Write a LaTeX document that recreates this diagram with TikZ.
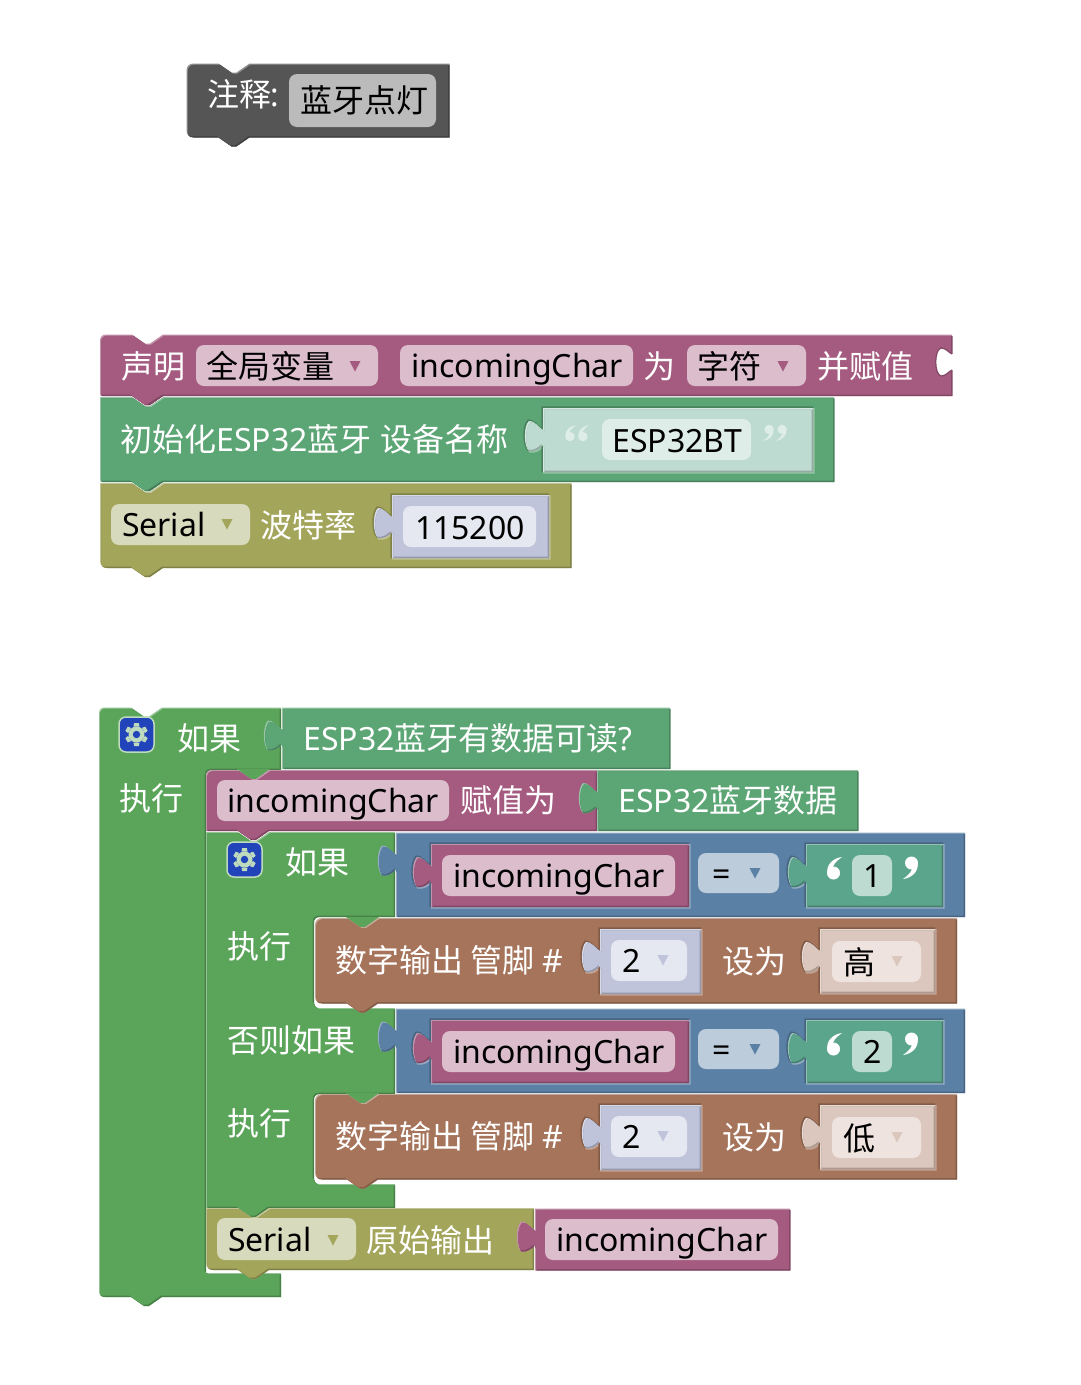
\documentclass[tikz,border=0pt]{standalone}
\usepackage{fontspec}
\setmainfont{Noto Sans}
\newfontfamily\cjk{Noto Sans CJK SC}
\newcommand\zh[1]{{\cjk #1}}
\newcommand\mk[2]{\definecolor{#1}{HTML}{#2}\colorlet{#1L}{#1!65!white}\colorlet{#1D}{#1!78!black}}
\mk{cGray}{555555}
\mk{cFunc}{A55B80}
\mk{cInit}{5CA575}
\mk{cOlive}{A3A55B}
\mk{cCtl}{5BA55B}
\mk{cBlue}{5B80A5}
\mk{cBrown}{A5745B}
\mk{cStr}{5BA58C}
\mk{cNumS}{BFC4DB}
\mk{cStrS}{BDDBD1}
\mk{cBrS}{DBC7BD}
\definecolor{fGray}{HTML}{BBBBBB}
\definecolor{fFunc}{HTML}{DBBDCC}
\definecolor{fOlive}{HTML}{D8DABD}
\definecolor{fBlue}{HTML}{BDCCDB}
\definecolor{fStrS}{HTML}{DEEDE8}
\definecolor{fNum}{HTML}{E5E7F1}
\definecolor{fBr}{HTML}{EEE3DE}
\definecolor{gearB}{HTML}{2244BB}
\definecolor{gearL}{HTML}{BEDBBE}
% block outlines
\newcommand\nt[2]{-- (#1+32,#2) -- (#1+45,#2+9) -- (#1+50,#2+9) -- (#1+63,#2)}
\newcommand\tb[2]{-- (#1+63,#2) -- (#1+50,#2+9) -- (#1+45,#2+9) -- (#1+32,#2)}
\newcommand\emb[1]{%
\begin{scope}\clip\shp;\fill[#1L]\shp;
 \begin{scope}[shift={(1.3,1.3)}]\fill[#1D]\shp;\end{scope}
 \begin{scope}[shift={(-1.3,-1.3)}]\clip\shp;
  \begin{scope}[shift={(2.6,2.6)}]\fill[#1]\shp;\end{scope}
 \end{scope}
\end{scope}}
% statement block: x1 y1 x2 y2 rtop rbot colour
\newcommand\stmt[7]{%
 \def\shp{(#1,#2+#5) .. controls (#1,#2+#5*0.4) and (#1+#5*0.4,#2) .. (#1+#5,#2) \nt{#1}{#2} -- (#3,#2) -- (#3,#4) \tb{#1}{#4} -- (#1+#6,#4) .. controls (#1+#6*0.4,#4) and (#1,#4-#6*0.4) .. (#1,#4-#6) -- cycle}%
 \emb{#7}}
% notch of a statement block: the tab of the block above shows in it
\newcommand\ntfill[3]{\fill[#3] (#1+31,#2-1) -- (#1+64,#2-1) -- (#1+50,#2+10) -- (#1+45,#2+10) -- cycle;}
% value block: xl yt xr yb colour
\newcommand\valshape[4]{\def\shp{(#1,#2) -- (#3,#2) -- (#3,#4) -- (#1,#4) -- (#1,#2+37) .. controls (#1-4,#2+41) and (#1-8,#2+44) .. (#1-14,#2+43) .. controls (#1-19.5,#2+38) and (#1-19.5,#2+18) .. (#1-14,#2+13) .. controls (#1-9,#2+12) and (#1-4,#2+20) .. (#1,#2+22) -- cycle}}
\newcommand\val[5]{\valshape{#1}{#2}{#3}{#4}\emb{#5}}
% inline value block, sitting in a recess of parent colour #6
\newcommand\ival[6]{\valshape{#1}{#2}{#3}{#4}%
 \begin{scope}[shift={(0.8,0.8)}]\draw[#6L,line width=1.6pt]\shp;\end{scope}%
 \begin{scope}[shift={(-0.8,-0.8)}]\draw[#6D,line width=1.6pt]\shp;\end{scope}%
 \emb{#5}}
\newcommand\fld[5]{\fill[#5,rounded corners=8pt] (#1,#2) rectangle (#3,#4);}
\newcommand\arr[3]{\fill[#3] (#1-5.5,#2-5) -- (#1+5.5,#2-5) -- (#1,#2+5.5) -- cycle;}
\newcommand\qm[5]{\begin{scope}[shift={(#1,#2)},scale=#3,rotate=#4]
 \fill[#5] (-1.5,5) circle (6.5);
 \fill[#5] (-7.6,5) .. controls (-9,-3) and (-2,-10) .. (7,-11) .. controls (1,-7) and (-3,-2) .. (-2,1) -- cycle;
\end{scope}}
\newcommand\gear[2]{\begin{scope}[shift={(#1,#2)}]
 \fill[gearB,draw=gearL,line width=1.5pt,rounded corners=7pt] (-17.5,-17.5) rectangle (17.5,17.5);
 \fill[gearL] (0,0) circle (8);
 \foreach \a in {0,60,...,300}{\fill[gearL,rotate=\a] (-3,-8) -- (-2.4,-11.5) -- (2.4,-11.5) -- (3,-8) -- cycle;}
 \fill[gearB] (0,0) circle (3.7);
\end{scope}}
\tikzset{lab/.style={anchor=base west,inner sep=0pt,outer sep=0pt,font=\fontsize{32}{32}\selectfont},
 wt/.style={lab,text=white},bk/.style={lab,text=black}}
\begin{document}
\begin{tikzpicture}[x=1pt,y=-1pt]
\useasboundingbox (0,0) rectangle (1080,1385);
% comment
\stmt{186.5}{63.5}{449.5}{137.5}{7}{7}{cGray}
\node[wt] (t1) at (207,106) {\zh{注释}\kern-1pt:};
\fld{289}{74}{436}{127}{fGray}
\node[bk] (t2) at (300,112) {\zh{蓝牙点灯}};
% declare
\stmt{100}{334.5}{952.5}{396}{6}{2}{cFunc}
\begin{scope}\fill[white] (954,354) -- (952,354) .. controls (948,352) and (946,348) .. (941,348) .. controls (934,350) and (934,374) .. (941,376) .. controls (946,376) and (948,372) .. (952,370) -- (954,370) -- cycle;\end{scope}
\draw[cFuncD,line width=1.2pt] (952,354) .. controls (948,352) and (946,348) .. (941,348) .. controls (934,350) and (934,374) .. (941,376) .. controls (946,376) and (948,372) .. (952,370);
\node[wt] (t3) at (121,378) {\zh{声明}};
\fld{196}{345}{378}{386}{fFunc}
\node[bk] (t4) at (206,378) {\zh{全局变量}};
\arr{355}{366}{cFunc}
\fld{400}{345}{633}{386}{fFunc}
\node[bk] (t5) at (411.5,377) {incomingChar};
\node[wt] (t6) at (643.5,378) {\zh{为}};
\fld{687}{345}{806}{386}{fFunc}
\node[bk] (t7) at (697,378) {\zh{字符}};
\arr{783}{366}{cFunc}
\node[wt] (t8) at (817,378) {\zh{并赋值}};
% init
\stmt{100}{397}{834.5}{482}{0}{2}{cInit}
\fill[cFunc] (132,396) -- (145,405) -- (150,405) -- (163,396) -- cycle;
\fill[cFuncD] (145,405) -- (150,405) -- (163,396) -- (160,396) -- (149,403) -- cycle;
\node[wt] (t9) at (120.5,451) {\zh{初始化}ESP32\zh{蓝牙} \zh{设备名称}};
\ival{543}{408}{813}{472}{cStrS}{cInit}
\qm{571}{433}{0.72}{0}{fStrS}
\qm{584}{433}{0.72}{0}{fStrS}
\fld{602}{419}{751}{460}{fStrS}
\node[bk] (t10) at (612.5,452) {ESP32BT};
\qm{768}{433}{0.72}{180}{fStrS}
\qm{781}{433}{0.72}{180}{fStrS}
% serial
\stmt{100}{483}{571.5}{568}{0}{7}{cOlive}
\fill[cInit] (132,482) -- (145,491) -- (150,491) -- (163,482) -- cycle;
\fill[cInitD] (145,491) -- (150,491) -- (163,482) -- (160,482) -- (149,489) -- cycle;
\fld{111}{504}{250}{545}{fOlive}
\node[bk] (t11) at (122,536) {Serial};
\arr{227}{524}{cOlive}
\node[wt] (t12) at (260.5,537) {\zh{波特率}};
\ival{392}{495}{549}{558}{cNumS}{cOlive}
\fld{403}{506}{536}{547}{fNum}
\node[bk] (t13) at (415,539) {115200};
% outer if
\def\shp{(99,713.5) .. controls (99,709.5) and (101,707.5) .. (105,707.5) \nt{99}{707.5} -- (281,707.5) -- (281,770) -- (212,770) .. controls (208,770) and (206,772) .. (206,776) -- (206,1273) -- (281,1273) -- (281,1297) \tb{99}{1297} -- (105,1297) .. controls (101,1297) and (99,1295) .. (99,1291) -- cycle}
\emb{cCtl}
\gear{136.5}{734.5}
\node[wt] (t14) at (177,750) {\zh{如果}};
\node[wt] (t15) at (119,810) {\zh{执行}};
\val{282}{707.5}{670.5}{769}{cInit}
\node[wt] (t16) at (303.5,750) {ESP32\zh{蓝牙有数据可读}?};
% inner if
\def\shp{(206,832) \nt{206}{832} -- (395,832) -- (395,917) -- (320,917) .. controls (316,917) and (314,919) .. (314,923) -- (314,1003) .. controls (314,1006) and (316,1008) .. (320,1008) -- (395,1008) -- (395,1094) -- (320,1094) .. controls (316,1094) and (314,1096) .. (314,1100) -- (314,1179) .. controls (314,1182) and (316,1184) .. (320,1184) -- (395,1184) -- (395,1208) \tb{206}{1208} -- (206,1208) -- cycle}
\emb{cCtl}
\gear{244.5}{859.5}
\node[wt] (t17) at (285,874) {\zh{如果}};
\node[wt] (t18) at (227,958) {\zh{执行}};
\node[wt] (t19) at (227,1052) {\zh{否则如果}};
\node[wt] (t20) at (227,1135) {\zh{执行}};
% assign
\ntfill{206}{770}{cCtl}
\stmt{206}{770}{597}{831}{6}{0}{cFunc}
\fld{217}{780}{449}{821}{fFunc}
\node[bk] (t21) at (227.5,812) {incomingChar};
\node[wt] (t22) at (460,812) {\zh{赋值为}};
\val{597}{770}{858.5}{831}{cInit}
\node[wt] (t23) at (618.5,812) {ESP32\zh{蓝牙数据}};
% blue row 1
\val{396}{832.5}{965}{917}{cBlue}
\ival{431}{844}{689}{907}{cFunc}{cBlue}
\fld{442}{855}{675}{896}{fFunc}
\node[bk] (t24) at (453,887) {incomingChar};
\fld{698}{853}{779}{893}{fBlue}
\node[bk] (t25) at (712,885) {=};
\arr{755}{873}{cBlue}
\ival{806}{844}{943}{907}{cStr}{cBlue}
\qm{835}{868}{1}{0}{white}
\fld{852}{855}{892}{896}{cStrS}
\node[bk] (t26) at (863,887) {1};
\qm{910}{868}{1}{180}{white}
% brown 1
\ntfill{315}{918}{cCtl}
\stmt{315}{918}{957}{1003.5}{7}{7}{cBrown}
\node[wt] (t27) at (335.5,972) {\zh{数字输出 管脚} \#};
\ival{600}{929}{701}{994}{cNumS}{cBrown}
\fld{611}{940}{687}{981}{fNum}
\node[bk] (t28) at (622,972) {2};
\arr{663}{960}{cNumS}
\node[wt] (t29) at (722,973) {\zh{设为}};
\ival{820}{929}{935}{993}{cBrS}{cBrown}
\fld{832}{941}{921}{982}{fBr}
\node[bk] (t30) at (843,974) {\zh{高}};
\arr{897}{961}{cBrS}
% blue row 2
\val{396}{1008.5}{965}{1093}{cBlue}
\ival{431}{1020}{689}{1083}{cFunc}{cBlue}
\fld{442}{1031}{675}{1072}{fFunc}
\node[bk] (t31) at (453,1063) {incomingChar};
\fld{698}{1029}{779}{1069}{fBlue}
\node[bk] (t32) at (712,1061) {=};
\arr{755}{1049}{cBlue}
\ival{806}{1020}{943}{1083}{cStr}{cBlue}
\qm{835}{1044}{1}{0}{white}
\fld{852}{1031}{892}{1072}{cStrS}
\node[bk] (t33) at (863,1063) {2};
\qm{910}{1044}{1}{180}{white}
% brown 2
\ntfill{315}{1094}{cCtl}
\stmt{315}{1094}{957}{1179.5}{7}{7}{cBrown}
\node[wt] (t34) at (335.5,1148) {\zh{数字输出 管脚} \#};
\ival{600}{1105}{701}{1170}{cNumS}{cBrown}
\fld{611}{1116}{687}{1157}{fNum}
\node[bk] (t35) at (622,1148) {2};
\arr{663}{1136}{cNumS}
\node[wt] (t36) at (722,1149) {\zh{设为}};
\ival{820}{1105}{935}{1169}{cBrS}{cBrown}
\fld{832}{1117}{921}{1158}{fBr}
\node[bk] (t37) at (843,1150) {\zh{低}};
\arr{897}{1137}{cBrS}
% serial print
\stmt{206}{1208}{534}{1270}{0}{7}{cOlive}
\fld{217}{1218}{356}{1260}{fOlive}
\node[bk] (t38) at (228,1251) {Serial};
\arr{333}{1240}{cOlive}
\node[wt] (t39) at (366.5,1252) {\zh{原始输出}};
\val{535}{1208.5}{790.5}{1270.5}{cFunc}
\fld{545}{1219}{778}{1260}{fFunc}
\node[bk] (t40) at (556,1251) {incomingChar};
\end{tikzpicture}
\end{document}
